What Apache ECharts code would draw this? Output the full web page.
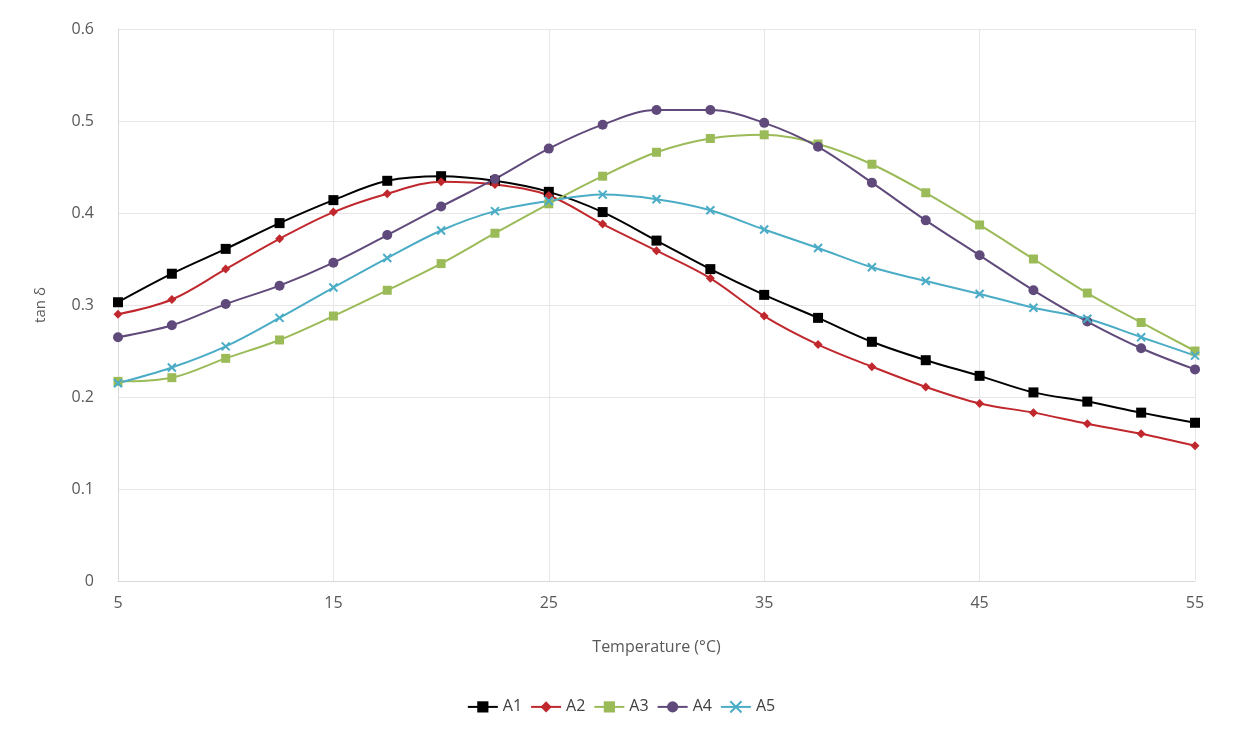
<!DOCTYPE html>
<html>
<head>
<meta charset="utf-8">
<script src="https://cdn.jsdelivr.net/npm/echarts@6/dist/echarts.min.js"></script>
<style>html,body{margin:0;background:#fff}</style>
</head>
<body>
<div id="main" style="width:1242px;height:742px;"></div>
<script>
var temps = [5,7.5,10,12.5,15,17.5,20,22.5,25,27.5,30,32.5,35,37.5,40,42.5,45,47.5,50,52.5,55];
var a1 = [0.303,0.334,0.361,0.389,0.414,0.435,0.440,0.435,0.423,0.401,0.370,0.339,0.311,0.286,0.260,0.240,0.223,0.205,0.195,0.183,0.172];
var a2 = [0.290,0.306,0.339,0.372,0.401,0.421,0.434,0.431,0.419,0.388,0.359,0.329,0.288,0.257,0.233,0.211,0.193,0.183,0.171,0.160,0.147];
var a3 = [0.217,0.221,0.242,0.262,0.288,0.316,0.345,0.378,0.410,0.440,0.466,0.481,0.485,0.475,0.453,0.422,0.387,0.350,0.313,0.281,0.250];
var a4 = [0.265,0.278,0.301,0.321,0.346,0.376,0.407,0.437,0.470,0.496,0.512,0.512,0.498,0.472,0.433,0.392,0.354,0.316,0.282,0.253,0.230];
var a5 = [0.215,0.232,0.255,0.286,0.319,0.351,0.381,0.402,0.413,0.420,0.415,0.403,0.382,0.362,0.341,0.326,0.312,0.297,0.285,0.265,0.245];

var cross = 'path://M0,0L10,10M10,0L0,10';
function pairs(v){ return v.map(function(y,i){ return [temps[i], y]; }); }
function ser(name, v, color, symbol, size){
    return {
        name: name, type: 'line', smooth: 0.35, data: pairs(v),
        symbol: symbol, symbolSize: size,
        lineStyle: {color: color, width: 2},
        itemStyle: symbol === cross ? {color: 'none', borderColor: color, borderWidth: 2} : {color: color}
    };
}
var chart = echarts.init(document.getElementById('main'));
chart.setOption({
    animation: false,
    textStyle: {fontFamily: 'Open Sans'},
    grid: {left: 118, right: 47, top: 29, bottom: 161},
    legend: {
        bottom: 22, left: 'center', itemGap: 8, itemWidth: 30,
        textStyle: {fontSize: 16, color: '#404040'},
        data: ['A1','A2','A3','A4','A5']
    },
    xAxis: {
        type: 'value', min: 5, max: 55, interval: 10,
        name: 'Temperature (°C)', nameLocation: 'middle', nameGap: 58,
        nameTextStyle: {fontSize: 16, color: '#595959'},
        axisLine: {lineStyle: {color: '#d9d9d9'}},
        axisTick: {show: false},
        axisLabel: {fontSize: 16, color: '#595959', margin: 14},
        splitLine: {lineStyle: {color: '#e6e6e6'}}
    },
    yAxis: {
        type: 'value', min: 0, max: 0.6, interval: 0.1,
        name: 'tan δ', nameLocation: 'middle', nameGap: 70,
        nameTextStyle: {fontSize: 15, color: '#595959'},
        axisLine: {show: true, lineStyle: {color: '#d9d9d9'}},
        axisTick: {show: false},
        axisLabel: {fontSize: 16, color: '#595959', margin: 24, formatter: function(v){ return +v.toFixed(1); }},
        splitLine: {lineStyle: {color: '#e6e6e6'}}
    },
    series: [
        ser('A1', a1, '#000000', 'rect', 10),
        ser('A2', a2, '#c0282d', 'diamond', 9),
        ser('A3', a3, '#9bbb59', 'rect', 9),
        ser('A4', a4, '#604a7b', 'circle', 10),
        ser('A5', a5, '#4bacc6', cross, 8)
    ]
});
</script>
</body>
</html>
